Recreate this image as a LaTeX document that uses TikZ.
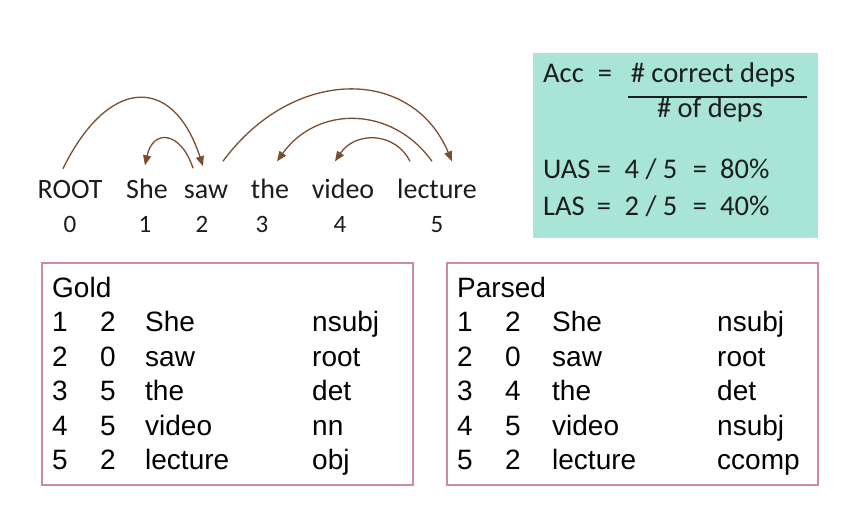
\documentclass[tikz,border=0pt]{standalone}
\usepackage{fontspec}
\setmainfont{Carlito}
\newfontfamily\tabfont{Liberation Sans}
\usetikzlibrary{arrows.meta}

\definecolor{arcbrown}{HTML}{7A4E2E}
\definecolor{accgreen}{HTML}{A8E5D7}
\definecolor{boxpink}{HTML}{CF8AA0}
\definecolor{inkdark}{HTML}{1C1C1C}

\begin{document}
\begin{tikzpicture}[
  x=1pt, y=-1pt,
  word/.style={inner sep=0pt, anchor=base, font=\fontsize{28}{30}\selectfont, text=inkdark},
  idx/.style={inner sep=0pt, anchor=base, font=\fontsize{25}{27}\selectfont, text=inkdark},
  acc/.style={inner sep=0pt, anchor=base, font=\fontsize{28.5}{31}\selectfont, text=inkdark},
  cell/.style={inner sep=0pt, anchor=base west, font=\tabfont\fontsize{28}{30}\selectfont, text=black},
  table/.style={draw=boxpink, line width=1.1pt},
  dep/.style={draw=arcbrown, line width=1.3pt, -{Triangle[length=10pt,width=8pt]}}
]
\useasboundingbox (0,0) rectangle (843,516);

% sentence
\node[word] (w0) at (70,198)  {ROOT};
\node[word] (w1) at (147,198) {She};
\node[word] (w2) at (206,198) {saw};
\node[word] (w3) at (270,198) {the};
\node[word] (w4) at (343,198) {video};
\node[word] (w5) at (437,198) {lecture};

\node[idx] (n0) at (70,232)  {0};
\node[idx] (n1) at (145,232) {1};
\node[idx] (n2) at (202,232) {2};
\node[idx] (n3) at (262,232) {3};
\node[idx] (n4) at (340,232) {4};
\node[idx] (n5) at (437,232) {5};

% arcs
\draw[dep] ([xshift=-7pt,yshift=11pt]w0.north) .. controls +(45,-92) and +(-30,-92) .. ([xshift=-3pt,yshift=18pt]w2.north);
\draw[dep] ([xshift=-13pt,yshift=16pt]w2.north) .. controls +(-12,-37) and +(8,-37) .. ([xshift=-2pt,yshift=13pt]w1.north);
\draw[dep] ([xshift=17pt,yshift=23pt]w2.north) .. controls +(70,-95) and +(-40,-95) .. ([xshift=15pt,yshift=17pt]w5.north);
\draw[dep] ([xshift=-5pt,yshift=17pt]w5.north) .. controls +(-40,-56) and +(40,-56) .. ([xshift=7pt,yshift=17pt]w3.north);
\draw[dep] ([xshift=-27pt,yshift=17pt]w5.north) .. controls +(-15,-30) and +(20,-30) .. ([xshift=-8pt,yshift=17pt]w4.north);

% accuracy box
\fill[accgreen] (533,53) rectangle (818,238);
\node[acc, anchor=base west] (acc) at (543,83) {Acc};
\node[acc] (acceq) at (605,83) {=};
\node[acc] (num) at (713,83) {\# correct deps};
\node[acc] (den) at (710,118) {\# of deps};
\draw[inkdark, line width=1.8pt] (628,97) -- (807,97);

\node[acc, anchor=base west] (uas) at (543,178) {UAS};
\node[acc] (uaseq) at (604,178) {=};
\node[acc] (uasfr) at (651,178) {4 / 5};
\node[acc] (uaseq2) at (700,178) {=};
\node[acc, anchor=base west] (uasval) at (720,178) {80\%};

\node[acc, anchor=base west] (las) at (543,215) {LAS};
\node[acc] (laseq) at (604,215) {=};
\node[acc] (lasfr) at (651,215) {2 / 5};
\node[acc] (laseq2) at (700,215) {=};
\node[acc, anchor=base west] (lasval) at (720,215) {40\%};

% gold table
\draw[table] (42,263) rectangle (413,485);
\node[cell] (gtitle) at (52,297) {Gold};
\foreach \a/\b/\w/\r [count=\i] in {1/2/She/nsubj, 2/0/saw/root, 3/5/the/det, 4/5/video/nn, 5/2/lecture/obj} {
  \node[cell] (g\i a) at (52,297+34.5*\i)  {\a};
  \node[cell] (g\i b) at (100,297+34.5*\i) {\b};
  \node[cell] (g\i w) at (145,297+34.5*\i) {\w};
  \node[cell] (g\i r) at (312,297+34.5*\i) {\r};
}

% parsed table
\draw[table] (447,263) rectangle (818,485);
\node[cell] (ptitle) at (457,297) {Parsed};
\foreach \a/\b/\w/\r [count=\i] in {1/2/She/nsubj, 2/0/saw/root, 3/4/the/det, 4/5/video/nsubj, 5/2/lecture/ccomp} {
  \node[cell] (p\i a) at (457,297+34.5*\i) {\a};
  \node[cell] (p\i b) at (505,297+34.5*\i) {\b};
  \node[cell] (p\i w) at (552,297+34.5*\i) {\w};
  \node[cell] (p\i r) at (717,297+34.5*\i) {\r};
}
\end{tikzpicture}
\end{document}
